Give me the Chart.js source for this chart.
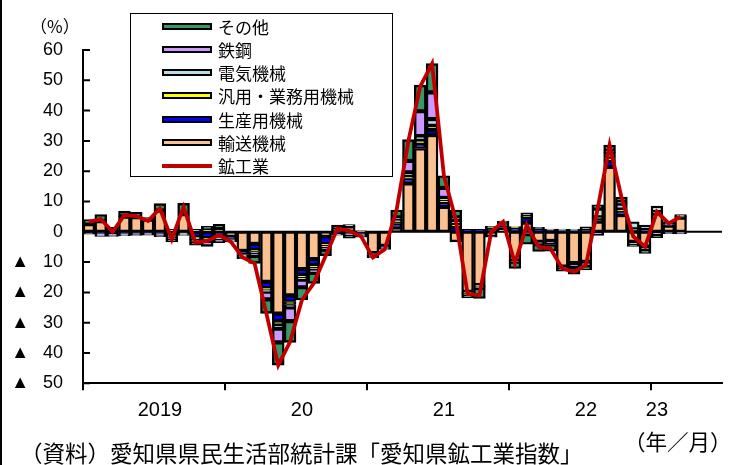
<!DOCTYPE html>
<html><head><meta charset="utf-8">
<script src="https://cdn.jsdelivr.net/npm/chart.js@4.4.1/dist/chart.umd.min.js"></script>
<style>
body{margin:0;background:#fff;}
#wrap{position:relative;width:737px;height:465px;overflow:hidden;background:#fff;font-family:"Noto Sans CJK JP",sans-serif;}
#c{position:absolute;left:0;top:0;}
.t{position:absolute;white-space:nowrap;color:#000;line-height:1;}
#legend{position:absolute;left:130px;top:13px;width:261px;height:162px;border:1px solid #000;background:#fff;}
.li{position:absolute;left:31px;height:20px;display:flex;align-items:center;font-size:17px;line-height:1;}
.sw{width:46px;height:3px;border:2px solid #000;margin-right:6px;}
.ln{width:50px;height:4px;margin-right:6px;}
</style></head><body>
<div id="wrap">
<canvas id="c" width="737" height="465"></canvas>
<div id="legend"></div>
<div class="t" style="left:30px;top:17px;font-size:17px;">（%）</div>
<div class="t" style="left:20px;top:441px;font-size:22.5px;">（資料）愛知県県民生活部統計課「愛知県鉱工業指数」</div>
<div class="t" style="left:624px;top:430px;font-size:21.5px;">（年／月）</div>
<div style="position:absolute;left:0;top:0;width:2px;height:465px;background:#000;"></div>
</div>
<script>
// ---- data ----
const categories = [
 '2019/1','2019/2','2019/3','2019/4','2019/5','2019/6','2019/7','2019/8','2019/9','2019/10','2019/11','2019/12',
 '2020/1','2020/2','2020/3','2020/4','2020/5','2020/6','2020/7','2020/8','2020/9','2020/10','2020/11','2020/12',
 '2021/1','2021/2','2021/3','2021/4','2021/5','2021/6','2021/7','2021/8','2021/9','2021/10','2021/11','2021/12',
 '2022/1','2022/2','2022/3','2022/4','2022/5','2022/6','2022/7','2022/8','2022/9','2022/10','2022/11','2022/12',
 '2023/1','2023/2','2023/3','2023/4','2023/5','2023/6'];
const yearLabels = ['2019','20','21','22','23'];
const yearLabelIndex = [6,18,30,42,48];

const transport = [2.5,3.5,1.5,5.0,4.8,4.0,7.0,0.8,5.8,0.8,0.8,1.0,
 -1.5,-6.3,-4.0,-16.5,-27,-21,-12.3,-9.0,-1.5,0.5,1.8,0.3,
 -7.0,-4.6,1.2,16,27.5,31.9,8.2,-3.3,-19.8,-17.6,-1.5,0.8,
 -9.5,3.0,-3.3,-3.0,-11.5,-10.3,-9.9,3.3,21.4,5.5,-3.3,-4.9,
 6.0,2.0,4.7];
const production = [-0.3,-0.5,-0.6,-0.5,-0.3,-0.4,-0.5,-1.0,-0.4,-1.8,-2.0,-1.5,
 -1.0,-1.2,-2.0,-2.0,-2.5,-2.0,-2.0,-2.0,-2.5,-0.6,-0.5,-0.8,
 -0.5,-0.4,1.5,1.6,1.5,1.8,1.5,1.8,0.8,0.8,1.2,1.2,
 1.3,1.8,0.8,0.5,0.3,0.4,0.3,1.0,2.0,1.3,0.5,0.4,
 0.3,0.2,0.3];
const general = [0,-0.2,-0.2,-0.2,-0.2,-0.1,-0.2,-0.3,-0.2,-0.2,-0.4,-0.4,
 -0.2,-0.2,-0.5,-0.7,-1.2,-1.0,-0.8,-0.8,-0.5,-0.2,-0.2,-0.2,
 -0.2,-0.2,0.3,0.8,1.2,1.3,0.5,0.5,-0.3,-0.2,0.2,0.3,
 0.2,0.3,0.2,0.1,0.1,0.1,0.1,0.5,0.8,0.5,0.3,0.2,
 0.2,0.2,0.2];
const electric = [-0.2,-0.3,-0.3,-0.3,-0.3,-0.3,-0.4,-0.5,-0.3,-0.5,-0.6,-0.5,
 -0.3,-0.3,-0.5,-0.6,-1.3,-1.0,-0.7,-0.6,-0.6,0.3,0.6,-0.2,
 -0.2,-0.2,1.0,1.2,1.4,2.2,1.0,1.5,-0.2,-0.3,0.3,0.5,
 0.2,1.2,0.5,0.3,0.5,0.3,1.2,2.8,2.0,2.0,2.5,1.6,
 2.0,1.0,0.5];
const steel = [-0.3,-0.5,-0.3,-0.3,-0.4,-0.3,-0.5,-0.6,-0.3,-1.0,-1.8,-1.2,
 -0.3,-0.4,-1.0,-2.5,-4.5,-4.5,-2.5,-1.2,-0.8,-0.3,-0.3,-0.3,
 -0.3,-0.2,0.8,3.8,8.2,8.8,3.3,1.0,-0.5,-0.4,-0.3,0.2,
 -0.4,-0.8,-0.8,-1.2,-0.3,-1.5,-1.5,-1.2,0.5,0.5,-1.0,-1.2,
 -1.2,-0.3,-0.4];
const others = [1.5,2.2,-0.1,1.8,1.6,0.7,2.3,-0.9,3.6,-0.9,1.0,1.5,
 0,-0.5,-2.4,-4.6,-7.5,-7.0,-4.2,-3.4,-2.0,1.4,-1.1,-0.3,
 -0.3,-0.2,2.4,7.0,8.6,9.5,4.0,2.4,-1.0,-3.5,0.1,0.5,
 -2.2,-3.3,-2.4,-2.2,-1.2,-2.2,-1.2,1.3,1.9,1.7,-0.5,-1.0,
 -0.7,-0.3,-0.3];
const total = [3.3,4.2,0.0,5.5,5.2,3.6,7.7,-2.5,8.2,-3.6,-3.0,-1.1,
 -3.3,-8.5,-10.4,-27.0,-44.0,-36.3,-22.5,-17.0,-8.0,1.1,0.3,-1.5,
 -8.5,-5.8,7.2,30.0,48.0,55.5,18.5,4.0,-20.5,-20.9,0.0,3.3,
 -10.4,2.2,-5.0,-5.5,-12.1,-13.2,-11.0,7.7,28.6,11.5,-1.5,-4.9,
 6.6,2.8,5.0];

const seriesNames = ['輸送機械','生産用機械','汎用・業務用機械','電気機械','鉄鋼','その他'];
const lineName = '鉱工業';
// ---- styles ----
const barColors = ['#FAC090','#0000FF','#FFFF00','#B7DEE8','#CC99FF','#339966'];
const lineColor = '#C00000';

const barSeries = [transport, production, general, electric, steel, others];
const datasets = barSeries.map((d, i) => ({
  type: 'bar', label: seriesNames[i], data: d, stack: 'bars', order: 1,
  backgroundColor: barColors[i], borderColor: '#000', borderWidth: 2.4, borderSkipped: false,
  categoryPercentage: 1.0, barPercentage: 1.0
}));
datasets.push({
  type: 'line', label: lineName, data: total, stack: 'line', order: 0,
  borderColor: lineColor, borderWidth: 3.8, pointRadius: 0, tension: 0, fill: false
});

const deco = {
  id: 'deco',
  beforeDatasetsDraw(chart) {
    const {ctx, chartArea: a, scales: {y}} = chart;
    const y0 = y.getPixelForValue(0);
    ctx.save(); ctx.strokeStyle = '#000'; ctx.lineWidth = 2;
    ctx.beginPath(); ctx.moveTo(a.left, y0); ctx.lineTo(a.right, y0); ctx.stroke();
    ctx.restore();
  },
  afterDatasetsDraw(chart) {
    const {ctx, chartArea: a, scales: {y}} = chart;
    ctx.save(); ctx.strokeStyle = '#000'; ctx.lineWidth = 2;
    ctx.beginPath();
    y.ticks.forEach(t => { const py = y.getPixelForValue(t.value); ctx.moveTo(a.left, py); ctx.lineTo(a.left + 7, py); });
    ctx.stroke();
    ctx.restore();
  }
};

new Chart(document.getElementById('c'), {
  data: { labels: categories, datasets },
  options: {
    responsive: false, animation: false,
    layout: { padding: { left: 0, top: 50, right: 15, bottom: 0 } },
    plugins: { legend: { display: false }, tooltip: { enabled: false } },
    scales: {
      x: {
        stacked: true, offset: true,
        grid: { display: true, offset: true, drawOnChartArea: false, drawTicks: true, tickLength: 7, lineWidth: 2,
                color: c => (c.index % 12 === 0 ? '#000' : 'rgba(0,0,0,0)') },
        border: { display: true, color: '#000', width: 2 },
        ticks: { autoSkip: false, maxRotation: 0, minRotation: 0, padding: 8, labelOffset: 0, color: '#000',
                 font: { family: '"Liberation Sans Narrow", "Liberation Sans", sans-serif', size: 20 },
                 callback: (v, i) => { const k = yearLabelIndex.indexOf(i); return k >= 0 ? yearLabels[k] : ''; } },
        afterFit: s => { s.height = 81.7; }
      },
      y: {
        stacked: true, min: -50, max: 60,
        grid: { display: false, drawTicks: false },
        border: { display: true, color: '#000', width: 2 },
        ticks: { stepSize: 10, padding: 20, color: '#000',
                 font: { family: '"Liberation Sans", Arial, sans-serif', size: 18 },
                 callback: v => (v < 0 ? '▲ \u2002' + (-v) : String(v)) },
        afterFit: s => { s.width = 83; }
      }
    }
  },
  plugins: [deco]
});

// ---- legend (HTML) ----
const legend = document.getElementById('legend');
const order = [5, 4, 3, 2, 1, 0];
order.forEach((si, k) => {
  const row = document.createElement('div');
  row.className = 'li'; row.style.top = (2 + k * 23.3) + 'px';
  const sw = document.createElement('span'); sw.className = 'sw'; sw.style.background = barColors[si];
  const tx = document.createElement('span'); tx.textContent = seriesNames[si];
  row.appendChild(sw); row.appendChild(tx); legend.appendChild(row);
});
const row = document.createElement('div');
row.className = 'li'; row.style.top = (2 + 6 * 23.3) + 'px';
const ln = document.createElement('span'); ln.className = 'ln'; ln.style.background = lineColor;
const tx = document.createElement('span'); tx.textContent = lineName;
row.appendChild(ln); row.appendChild(tx); legend.appendChild(row);
</script>
</body></html>
